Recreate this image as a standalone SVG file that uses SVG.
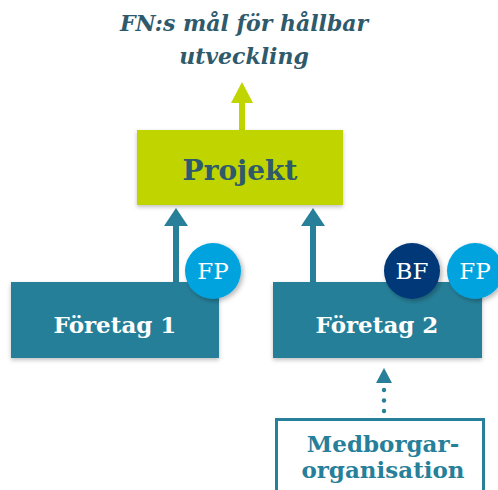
<svg xmlns="http://www.w3.org/2000/svg" width="498" height="490" viewBox="0 0 498 490">
<defs>
<filter id="sh" x="-20%" y="-20%" width="140%" height="150%"><feDropShadow dx="0" dy="2" stdDeviation="2" flood-color="#000" flood-opacity="0.25"/></filter>
<filter id="csh" x="-30%" y="-30%" width="160%" height="160%"><feDropShadow dx="2" dy="2" stdDeviation="2.5" flood-color="#000" flood-opacity="0.3"/></filter>
</defs>
<style>
.t{font-family:"DejaVu Serif","Liberation Serif",serif;text-anchor:middle}
.box{fill:#277f99}
.wt{fill:#fff;font-weight:bold;font-size:23px}
.ct{fill:#fff;font-size:23px}
.ln{stroke:#277f99;stroke-width:6}
</style>
<g id="title"><text class="t" x="244" y="31" font-size="22" font-style="italic" font-weight="bold" fill="#2e5a6b">FN:s mål för hållbar</text><text class="t" x="244" y="64" font-size="22" font-style="italic" font-weight="bold" fill="#2e5a6b">utveckling</text></g>
<g id="connectors">
<line x1="242" y1="131" x2="242" y2="100" stroke="#c0d400" stroke-width="6"/><polygon points="242,82 253,103 231,103" fill="#c0d400"/>
<line class="ln" x1="176" y1="283" x2="176" y2="222"/><polygon points="176,208 188,226 164,226" fill="#277f99"/>
<line class="ln" x1="313" y1="283" x2="313" y2="222"/><polygon points="313,208 325,226 301,226" fill="#277f99"/>
<circle cx="384" cy="390" r="2.2" fill="#277f99"/><circle cx="384" cy="400.5" r="2.2" fill="#277f99"/><circle cx="384" cy="411" r="2.2" fill="#277f99"/>
<polygon points="384,368 392,383 376,383" fill="#277f99"/>
</g>
<g id="projekt"><rect x="137" y="130" width="206" height="75" fill="#c0d400" filter="url(#sh)"/><text class="t" x="240" y="180" font-size="28" font-weight="bold" fill="#2e5a6b">Projekt</text></g>
<g id="foretag1"><rect class="box" x="11" y="282" width="208" height="76" filter="url(#sh)"/><text class="t wt" x="115" y="333">Företag 1</text></g>
<g id="foretag2"><rect class="box" x="273" y="282" width="209" height="76" filter="url(#sh)"/><text class="t wt" x="377" y="333">Företag 2</text></g>
<g id="fp1"><circle cx="213" cy="271" r="28" fill="#00a3dd" filter="url(#csh)"/><text class="t ct" x="213" y="279">FP</text></g>
<g id="bf2"><circle cx="412" cy="271" r="28" fill="#003778" filter="url(#csh)"/><text class="t ct" x="412" y="279">BF</text></g>
<g id="fp2"><circle cx="475" cy="271" r="28" fill="#00a3dd" filter="url(#csh)"/><text class="t ct" x="475" y="279">FP</text></g>
<g id="medborgar"><rect x="276.5" y="419.5" width="207" height="80" fill="#fff" stroke="#277f99" stroke-width="3"/><text class="t" x="383" y="452" font-size="23" font-weight="bold" fill="#277f99">Medborgar-</text><text class="t" x="383" y="478" font-size="23" font-weight="bold" fill="#277f99">organisation</text></g>
</svg>
